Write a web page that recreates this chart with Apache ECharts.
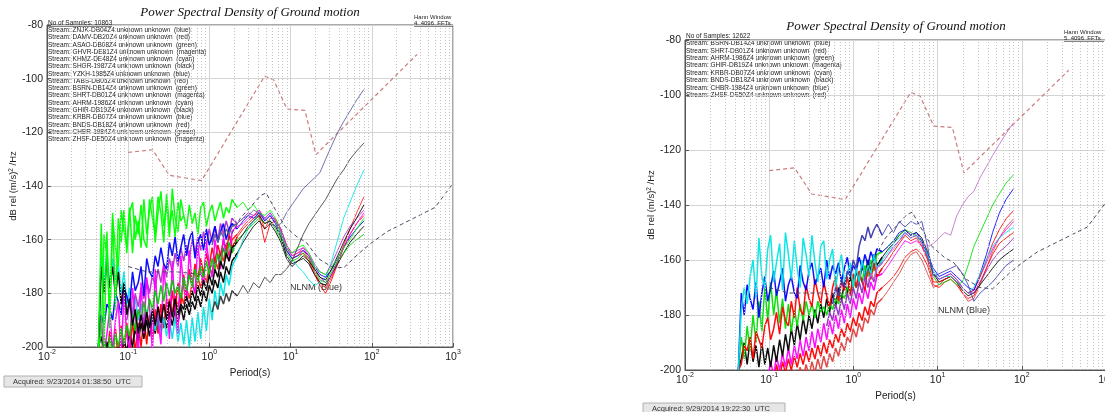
<!DOCTYPE html>
<html>
<head>
<meta charset="utf-8">
<script src="https://cdn.jsdelivr.net/npm/echarts@6/dist/echarts.min.js"></script>
<style>
  html, body { margin: 0; padding: 0; background: #fff; }
  #chart { width: 1105px; height: 412px; }
</style>
</head>
<body>
<div id="chart"></div>
<script>
// Shared period grid (s) for every PSD trace
const periods = [
  0.043,0.0466,0.0505,0.0547,0.0593,0.0643,0.0697,0.0755,0.0818,0.0887,
  0.0961,0.104,0.113,0.122,0.133,0.144,0.156,0.169,0.183,0.199,
  0.215,0.233,0.253,0.274,0.297,0.322,0.349,0.378,0.41,0.445,
  0.482,0.522,0.566,0.614,0.665,0.721,0.782,0.847,0.918,0.995,
  1.08,1.17,1.27,1.37,1.49,1.61,1.75,1.9,
  2.2,2.6,3.0,3.5,4.1,4.8,5.6,6.5,7.6,8.9,10.4,12.2,14.3,16.8,19.7,23,27,32,38,45,54,65,80
];

// Noise models (same on both panels)
const nhnmPeriods = [0.1,0.2,0.32,0.8,4.8,6.2,9,15,20.5,360];
const nhnmDb = [-127.5,-126.5,-136,-138,-99,-100.5,-111.3,-111.8,-128.3,-91];
const nlnmPeriods = [0.1,0.17,0.4,0.8,1.24,2.4,4.3,5,6,8.5,12,15.6,21.9,31.6,45,70,101,154,328,600,1000];
const nlnmDb = [-170,-172,-172,-173,-168,-152,-143.5,-142.6,-147,-155,-159,-161,-167,-170,-170.5,-165,-161,-157,-152,-148,-139];

const xTicks = [0.01, 0.1, 1, 10, 100, 1000];

// ---- left panel (23 Sep 2014) traces, dB ----
const leftRed2 = [null,null,null,null,null,null,null,null,null,null,null,null,
  -198,-194,-197,-191,-195,-189,-193,-187,
  -191,-185,-190,-184,-188,-182,-187,-181,-185,-180,
  -184,-178,-182,-176,-180,-174,-178,-172,-176,-170,
  -173,-167,-171,-165,-168,-162,-166,-160,
  -158,-155,-153,-151,-150,-156,-152,-152,-156,-162,-166,-165,-164,-167,-172,-176,-178,-174,-168,-162,-156,-150,-144];
const leftRed = [
  -200,-202,-196,-204,-194,-203,-193,-205,-192,-201,
  -191,-204,-190,-202,-191,-200,-189,-199,-188,-197,
  -186,-195,-184,-193,-182,-190,-179,-187,-176,-184,
  -173,-181,-171,-178,-169,-175,-167,-173,-165,-170,
  -163,-168,-162,-166,-160,-165,-158,-163,
  -159,-156,-154,-152,-151,-161,-154,-153,-157,-164,-167,-166,-165,-168,-173,-177,-180,-175,-169,-163,-158,-154,-151];
const leftBlack2 = [
  -200,-196,-203,-198,-205,-199,-204,-200,-203,-197,
  -202,-195,-200,-193,-198,-191,-197,-190,-196,-189,
  -195,-188,-194,-189,-193,-187,-192,-186,-191,-185,
  -190,-184,-188,-183,-186,-181,-185,-179,-183,-177,
  -180,-175,-178,-172,-176,-170,-173,-168,
  -165,-161,-158,-155,-153,-156,-154,-157,-161,-167,-170,-168,-167,-169,-173,-176,-177,-173,-169,-165,-161,-158,-155];
const leftCyan = [
  -200,-166,-176,-164,-178,-167,-175,-169,-180,-172,
  -184,-178,-188,-182,-190,-184,-192,-186,-193,-187,
  -194,-188,-195,-189,-196,-190,-197,-189,-198,-191,
  -199,-190,-200,-189,-198,-187,-197,-185,-194,-182,
  -190,-179,-186,-176,-181,-173,-177,-170,
  -166,-160,-156,-153,-150,-152,-150,-153,-157,-163,-167,-170,-172,-175,-177,-176,-174,-168,-160,-152,-146,-140,-134];
const leftMagenta2 = [null,null,null,null,null,null,null,null,null,null,
  -190,-184,-188,-180,-185,-178,-182,-175,-180,-173,
  -178,-171,-176,-169,-174,-167,-172,-165,-170,-163,
  -168,-162,-167,-160,-165,-159,-164,-157,-162,-156,
  -161,-155,-160,-154,-158,-153,-157,-152,
  -154,-152,-150,-151,-149,-153,-151,-153,-156,-162,-165,-164,-163,-165,-169,-172,-173,-169,-164,-159,-155,-152,-149];
const leftBlue = [
  -200,-188,-192,-184,-186,-190,-180,-183,-188,-178,
  -181,-185,-172,-179,-176,-170,-181,-167,-172,-174,
  -166,-170,-163,-169,-171,-161,-166,-159,-168,-163,
  -158,-166,-160,-157,-167,-161,-158,-164,-156,-162,
  -159,-155,-161,-157,-154,-160,-156,-154,
  -156,-153,-151,-152,-150,-153,-151,-154,-158,-164,-167,-166,-164,-166,-170,-173,-174,-171,-167,-163,-159,-156,-153];
const leftMagenta = [
  -200,-189,-203,-195,-186,-202,-190,-183,-204,-180,
  -196,-201,-178,-188,-203,-176,-195,-174,-185,-202,
  -171,-190,-199,-170,-182,-197,-168,-186,-195,-166,
  -178,-183,-164,-176,-180,-162,-172,-177,-161,-169,
  -174,-160,-166,-171,-159,-165,-168,-157,
  -155,-154,-152,-151,-149,-152,-150,-153,-157,-163,-166,-165,-163,-166,-171,-174,-176,-173,-168,-163,-158,-154,-150];
const leftGreen2 = [
  -200,-203,-197,-204,-196,-202,-195,-200,-193,-199,
  -192,-196,-188,-194,-186,-190,-183,-189,-182,-186,
  -179,-184,-177,-183,-176,-181,-175,-180,-177,-182,
  -174,-179,-173,-178,-171,-176,-170,-174,-168,-173,
  -167,-171,-165,-169,-163,-167,-161,-165,
  -160,-158,-156,-154,-152,-154,-153,-156,-160,-165,-168,-167,-165,-167,-171,-175,-176,-172,-168,-165,-162,-160,-158];
const leftBlack1 = [
  -200,-170,-180,-168,-178,-170,-181,-172,-184,-176,
  -188,-182,-192,-186,-195,-188,-194,-187,-193,-186,
  -192,-185,-191,-184,-190,-183,-189,-182,-188,-184,
  -186,-181,-185,-179,-183,-177,-181,-175,-179,-173,
  -177,-171,-174,-168,-171,-165,-168,-163,
  -161,-158,-155,-153,-151,-154,-153,-155,-159,-166,-169,-168,-166,-168,-171,-174,-175,-171,-166,-161,-156,-152,-147];
const leftGreen3 = [
  -200,-195,-158,-166,-188,-152,-163,-170,-149,-157,
  -162,-148,-165,-151,-158,-147,-160,-163,-145,-152,
  -158,-144,-150,-161,-143,-155,-149,-159,-146,-153,-151];
const leftGreen1 = [
  -200,-154,-199,-157,-193,-150,-186,-152,-161,-149,
  -165,-150,-146,-160,-153,-163,-145,-158,-149,-144,
  -161,-150,-142,-155,-147,-159,-141,-152,-157,-145,
  -151,-156,-147,-154,-150,-158,-148,-146,-155,-150,
  -147,-153,-149,-146,-152,-148,-150,-145,
  -148,-146,-149,-147,-150,-151,-149,-152,-158,-163,-165,-163,-162,-165,-170,-172,-173,-170,-167,-163,-160,-156,-152];
const leftLineA = [null,null,null,null,null,null,null,null,null,null,
  null,null,null,null,null,null,null,null,null,null,
  null,null,null,null,null,null,null,null,null,null,
  null,null,null,null,null,null,null,null,null,null,
  -162,-158,-161,-157,-159,-156,-158,-155,
  -154,-152,-151,-149,-150,-152,-154,-155,-154,-150,-147,-144,-141,-139,-137,-135,-130,-125,-120,-116,-112,-108,-104];
const leftLineB = [null,null,null,null,null,null,null,null,null,null,
  null,null,null,null,null,null,null,null,null,null,
  null,null,null,null,null,null,null,null,null,null,
  null,null,null,null,null,null,null,null,null,null,
  -187,-183,-186,-181,-184,-180,-183,-179,
  -181,-177,-180,-176,-178,-174,-176,-173,-173,-171,-168,-163,-158,-154,-151,-148,-145,-141,-137,-134,-130,-127,-124];

// ---- right panel (29 Sep 2014) traces, dB ----
const rightRed3 = [null,null,null,null,null,null,null,null,null,null,
  null,null,null,null,null,null,null,null,-205,-200,
  -204,-199,-203,-198,-202,-197,-201,-196,-200,-195,
  -199,-194,-197,-192,-195,-190,-193,-188,-190,-185,
  -188,-183,-186,-181,-183,-178,-180,-176,
  -174,-171,-168,-165,-161,-158,-157,-160,-165,-170,-169,-167,-166,-168,-172,-175,-174,-169,-163,-157,-152,-148,-145];
const rightRed2 = [null,null,null,null,null,null,null,null,null,null,null,null,
  -204,-198,-203,-197,-201,-196,-200,-195,
  -199,-194,-198,-193,-197,-192,-196,-191,-195,-190,
  -194,-189,-192,-187,-190,-185,-188,-183,-186,-181,
  -184,-179,-182,-177,-180,-175,-177,-172,
  -170,-168,-166,-163,-159,-157,-156,-158,-162,-169,-170,-168,-167,-169,-172,-174,-173,-168,-163,-158,-154,-152,-150];
const rightMagenta = [null,null,null,null,null,null,null,null,null,null,
  -203,-197,-202,-195,-200,-194,-199,-192,-198,-191,
  -196,-189,-195,-188,-193,-186,-192,-185,-190,-183,
  -189,-182,-187,-180,-185,-178,-183,-176,-181,-174,
  -178,-172,-176,-170,-174,-168,-171,-166,
  -165,-162,-159,-156,-153,-154,-153,-155,-159,-165,-167,-166,-165,-167,-170,-172,-171,-166,-161,-156,-152,-149,-146];
const rightBlack = [
  -200,-196,-190,-198,-189,-197,-191,-199,-190,-198,
  -192,-199,-191,-197,-189,-195,-187,-193,-185,-191,
  -183,-189,-181,-187,-180,-185,-178,-183,-176,-181,
  -174,-179,-172,-177,-170,-175,-168,-172,-166,-170,
  -164,-168,-162,-166,-160,-164,-158,-162,
  -159,-156,-154,-151,-149,-151,-150,-152,-157,-165,-168,-167,-166,-168,-171,-173,-172,-169,-166,-163,-160,-158,-156];
const rightGreen = [
  -200,-188,-196,-184,-193,-180,-190,-175,-186,-170,
  -182,-168,-180,-171,-183,-174,-185,-176,-186,-178,
  -184,-176,-182,-175,-180,-176,-181,-175,-179,-177,
  -180,-176,-178,-174,-176,-172,-174,-170,-172,-167,
  -170,-165,-168,-162,-166,-160,-164,-158,
  -157,-155,-153,-151,-149,-150,-151,-153,-159,-166,-169,-168,-167,-169,-168,-162,-155,-150,-145,-140,-136,-132,-129];
const rightRed1 = [
  -200,-198,-191,-193,-188,-196,-186,-189,-192,-184,
  -181,-189,-185,-179,-187,-177,-182,-184,-175,-181,
  -170,-178,-180,-169,-174,-177,-167,-172,-176,-168,
  -173,-177,-170,-166,-175,-168,-171,-166,-173,-165,
  -170,-164,-168,-171,-162,-167,-161,-166,
  -163,-160,-157,-154,-151,-153,-152,-155,-160,-168,-168,-167,-166,-168,-170,-172,-171,-166,-160,-154,-149,-145,-142];
const rightBlue = [
  -200,-172,-180,-169,-174,-178,-168,-181,-172,-166,
  -175,-170,-164,-173,-168,-163,-175,-169,-166,-172,
  -174,-162,-168,-171,-164,-161,-169,-166,-163,-170,
  -160,-167,-162,-165,-161,-168,-163,-159,-166,-162,
  -164,-159,-163,-158,-162,-157,-160,-156,
  -157,-155,-153,-150,-149,-151,-150,-153,-158,-163,-166,-165,-164,-166,-168,-170,-171,-165,-158,-150,-143,-138,-134];
const rightCyan = [
  -200,-178,-170,-176,-166,-160,-174,-152,-166,-170,
  -156,-151,-168,-161,-154,-171,-150,-158,-167,-153,
  -163,-170,-152,-158,-166,-151,-161,-168,-155,-153,
  -167,-160,-156,-170,-163,-158,-168,-165,-161,-170,
  -163,-168,-160,-166,-162,-165,-158,-163,
  -160,-157,-154,-152,-150,-152,-151,-154,-158,-164,-167,-166,-166,-168,-170,-172,-170,-165,-160,-155,-152,-150,-148];
const rightPurple = [null,null,null,null,null,null,null,null,null,null,
  null,null,null,null,null,null,null,null,null,null,
  null,null,null,null,null,null,null,null,null,null,
  -184,-179,-182,-176,-180,-174,-178,-172,-176,-170,
  -174,-168,-172,-166,-170,-165,-168,-163,
  -161,-158,-155,-153,-150,-152,-151,-154,-159,-165,-167,-166,-165,-167,-170,-172,-172,-168,-164,-160,-157,-155,-152];
const rightBlueHigh = [null,null,null,null,null,null,null,null,null,null,
  null,null,null,null,null,null,null,null,null,null,
  null,null,null,null,null,null,null,null,null,null,
  null,null,-176,-170,-173,-167,-170,-164,-166,-160,
  -163,-155,-151,-153,-148,-152,-149,-147,
  -151,-147,-150,-146,-148,-146,-147,-146,-155,-166,-165,-164,-163,-162,-165,-169,-175,-172,-170,-168,-165,-162,-160];
const rightViolet = [null,null,null,null,null,null,null,null,null,null,
  null,null,null,null,null,null,null,null,null,null,
  null,null,null,null,null,null,null,null,null,null,
  null,null,null,null,null,null,null,null,null,null,
  null,null,null,null,-168,-165,-167,-163,
  -161,-158,-156,-153,-151,-150,-152,-154,-155,-154,-152,-150,-151,-144,-140,-137,-135,-130,-126,-122,-118,-114,-110];

// Station legends
const leftSamples = 'No of Samples: 10863';
const leftStreams = [
  'ZNJK-DB04Z4 unknown unknown  (blue)', 'DAMV-DB20Z4 unknown unknown  (red)',
  'ASAO-DB08Z4 unknown unknown  (green)', 'GHVR-DE81Z4 unknown unknown  (magenta)',
  'KHMZ-DE48Z4 unknown unknown  (cyan)', 'SHGR-1987Z4 unknown unknown  (black)',
  'YZKH-1985Z4 unknown unknown  (blue)', 'TABS-DB05Z4 unknown unknown  (red)',
  'BSRN-DB14Z4 unknown unknown  (green)', 'SHRT-DB01Z4 unknown unknown  (magenta)',
  'AHRM-1986Z4 unknown unknown  (cyan)', 'GHIR-DB19Z4 unknown unknown  (black)',
  'KRBR-DB07Z4 unknown unknown  (blue)', 'BNDS-DB18Z4 unknown unknown  (red)',
  'CHBR-1984Z4 unknown unknown  (green)', 'ZHSF-DE50Z4 unknown unknown  (magenta)'
];
const rightSamples = 'No of Samples: 12622';
const rightStreams = [
  'BSRN-DB14Z4 unknown unknown  (blue)', 'SHRT-DB01Z4 unknown unknown  (red)',
  'AHRM-1986Z4 unknown unknown  (green)', 'GHIR-DB19Z4 unknown unknown  (magenta)',
  'KRBR-DB07Z4 unknown unknown  (cyan)', 'BNDS-DB18Z4 unknown unknown  (black)',
  'CHBR-1984Z4 unknown unknown  (blue)', 'ZHSF-DE50Z4 unknown unknown  (red)'
];
const titleText = 'Power Spectral Density of Ground motion';
const leftAcquired = 'Acquired: 9/23/2014 01:38:50  UTC';
const rightAcquired = 'Acquired: 9/29/2014 19:22:30  UTC';

const FONT = '"Liberation Sans", Arial, sans-serif';
const DENSE_END = 48; // index of first period above 2 s

function toPairs(vals, xs) {
  const out = [];
  vals.forEach((v, i) => { if (v != null) out.push([xs[i], v]); });
  return out;
}

function lineSeries(pairs, color, panel, width, opacity) {
  return {
    type: 'line', xAxisIndex: panel, yAxisIndex: panel,
    data: pairs, symbol: 'none', silent: true,
    lineStyle: { color, width, opacity }
  };
}

// short-period part is drawn heavier (dense cloud), long-period tail thin
function trace(vals, color, panel) {
  const head = vals.map((v, i) => (i <= DENSE_END ? v : null));
  const tail = vals.map((v, i) => (i >= DENSE_END - 1 ? v : null));
  return [
    lineSeries(toPairs(head, periods), color, panel, 1.5, 0.95),
    lineSeries(toPairs(tail, periods), color, panel, 1, 0.85)
  ];
}

// minor (2..9) dotted grid lines of the log axis
const minorGrid = [];
for (const d of [0.01, 0.1, 1, 10, 100]) {
  for (let m = 2; m <= 9; m++) minorGrid.push({ xAxis: +(d * m).toPrecision(3) });
}

function noiseModels(panel) {
  return [
    {
      type: 'line', xAxisIndex: panel, yAxisIndex: panel, symbol: 'none', silent: true,
      data: toPairs(nlnmDb, nlnmPeriods),
      lineStyle: { color: '#4a4a66', width: 1, type: [4, 3] }
    },
    {
      type: 'line', xAxisIndex: panel, yAxisIndex: panel, symbol: 'none', silent: true, z: 1,
      data: toPairs(nhnmDb, nhnmPeriods),
      lineStyle: { color: '#cc7c7c', width: 1.2, type: [4, 3] },
      markLine: {
        silent: true, symbol: 'none', animation: false, label: { show: false },
        lineStyle: { color: '#c4c4c4', width: 1, type: [1, 2] },
        data: minorGrid
      }
    }
  ];
}

const supRich = {
  b: { fontSize: 10.5, fontFamily: FONT, color: '#222', padding: [3, 0, 0, 0], verticalAlign: 'bottom' },
  s: { fontSize: 7, fontFamily: FONT, color: '#222', verticalAlign: 'top' }
};

function xAxisFor(i, gap) {
  return {
    type: 'log', logBase: 10, gridIndex: i, min: 0.01, max: 1000,
    name: 'Period(s)', nameLocation: 'middle', nameGap: gap,
    nameTextStyle: { fontSize: 10, fontFamily: FONT, color: '#222' },
    axisLine: { lineStyle: { color: '#555' } },
    axisTick: { inside: true, length: 4, lineStyle: { color: '#555' } },
    axisLabel: {
      margin: 2,
      customValues: xTicks,
      formatter: v => '{b|10}{s|' + Math.round(Math.log10(v)) + '}',
      rich: supRich
    },
    splitLine: { show: true, lineStyle: { color: '#d4d4d4' } }
  };
}

function yAxisFor(i, gap) {
  return {
    type: 'value', gridIndex: i, min: -200, max: -80, interval: 20,
    name: 'dB rel (m/s){s|2} /Hz', nameLocation: 'middle', nameGap: gap,
    nameTextStyle: { fontSize: 9.5, fontFamily: FONT, color: '#222', rich: { s: { fontSize: 6.5, fontFamily: FONT, color: '#222', verticalAlign: 'top' } } },
    axisLine: { show: true, lineStyle: { color: '#555' } },
    axisTick: { inside: true, length: 4, lineStyle: { color: '#555' } },
    axisLabel: { fontSize: 10.5, fontFamily: FONT, color: '#222', margin: 4 },
    splitLine: { show: true, lineStyle: { color: '#d4d4d4' } }
  };
}

function legendBlock(x, y0, step, header, streams) {
  const els = [{
    type: 'text', x, y: y0,
    style: { text: header, font: '6.5px ' + FONT, fill: '#222', verticalAlign: 'middle' }
  }, {
    type: 'line', shape: { x1: x, y1: y0 + 3.5, x2: x + 64, y2: y0 + 3.5 },
    style: { stroke: '#333', lineWidth: 0.6 }
  }];
  streams.forEach((s, k) => {
    els.push({
      type: 'text', x, y: y0 + step * (k + 1),
      style: { text: 'Stream: ' + s, font: '6.5px ' + FONT, fill: '#222', verticalAlign: 'middle' }
    });
  });
  return els;
}

function acquiredBox(x, y, w, h, text) {
  return [{
    type: 'rect', shape: { x, y, width: w, height: h },
    style: { fill: '#e6e6e6', stroke: '#b0b0b0', lineWidth: 1 }
  }, {
    type: 'text', x: x + 9, y: y + h / 2,
    style: { text, font: '7.5px ' + FONT, fill: '#333', verticalAlign: 'middle' }
  }];
}

function hannText(x, y, fft) {
  return [{
    type: 'text', x, y,
    style: { text: 'Hann Window', font: '6px ' + FONT, fill: '#222', verticalAlign: 'middle' }
  }, {
    type: 'text', x, y: y + 6,
    style: { text: fft, font: '6px ' + FONT, fill: '#222', verticalAlign: 'middle' }
  }, {
    type: 'line', shape: { x1: x, y1: y + 9.5, x2: x + 40, y2: y + 9.5 },
    style: { stroke: '#333', lineWidth: 0.6 }
  }];
}

const graphics = [].concat(
  [{ type: 'text', x: 250, y: 13, style: { text: titleText, font: 'italic 13px "Liberation Serif", serif', fill: '#111', align: 'center', verticalAlign: 'middle' } },
   { type: 'text', x: 896, y: 27, style: { text: titleText, font: 'italic 13px "Liberation Serif", serif', fill: '#111', align: 'center', verticalAlign: 'middle' } },
   { type: 'text', x: 290, y: 288, style: { text: 'NLNM (Blue)', font: '9px ' + FONT, fill: '#333', verticalAlign: 'middle' } },
   { type: 'text', x: 938, y: 311, style: { text: 'NLNM (Blue)', font: '9px ' + FONT, fill: '#333', verticalAlign: 'middle' } }],
  hannText(414, 17, '4, 4096  FFTs'),
  hannText(1064, 32, '5, 4096  FFTs'),
  legendBlock(48, 23, 7.27, leftSamples, leftStreams),
  legendBlock(686, 36, 7.4, rightSamples, rightStreams),
  acquiredBox(4, 376, 138, 11, leftAcquired),
  acquiredBox(643, 403, 142, 11, rightAcquired)
);

const series = [
  ...trace(leftRed2, '#ff2020', 0),
  ...trace(leftRed, '#ff0000', 0),
  ...trace(leftBlack2, '#000000', 0),
  ...trace(leftCyan, '#00e5e5', 0),
  ...trace(leftMagenta2, '#b030c8', 0),
  ...trace(leftBlue, '#0000ff', 0),
  ...trace(leftMagenta, '#ff00ff', 0),
  ...trace(leftGreen2, '#00cc00', 0),
  ...trace(leftBlack1, '#000000', 0),
  ...trace(leftGreen3, '#00ff00', 0),
  ...trace(leftGreen1, '#00ff00', 0),
  ...trace(leftLineA, '#5a5a9a', 0),
  ...trace(leftLineB, '#3a3a3a', 0),
  ...noiseModels(0),
  ...trace(rightRed3, '#e04040', 1),
  ...trace(rightRed2, '#ff0000', 1),
  ...trace(rightMagenta, '#ff00ff', 1),
  ...trace(rightBlack, '#000000', 1),
  ...trace(rightGreen, '#00dd00', 1),
  ...trace(rightRed1, '#ff0000', 1),
  ...trace(rightBlue, '#0000ff', 1),
  ...trace(rightCyan, '#00e5e5', 1),
  ...trace(rightPurple, '#9030c0', 1),
  ...trace(rightBlueHigh, '#3a3ab0', 1),
  ...trace(rightViolet, '#c070c8', 1),
  ...noiseModels(1)
];

const chart = echarts.init(document.getElementById('chart'), null, { renderer: 'canvas' });
chart.setOption({
  animation: false,
  backgroundColor: '#fff',
  grid: [
    { left: 47, top: 25, width: 406, height: 322, show: true, borderColor: '#555', borderWidth: 1, backgroundColor: 'transparent', outerBoundsMode: 'none' },
    { left: 685, top: 40, width: 421, height: 330, show: true, borderColor: '#555', borderWidth: 1, backgroundColor: 'transparent', outerBoundsMode: 'none' }
  ],
  xAxis: [xAxisFor(0, 13), xAxisFor(1, 16)],
  yAxis: [yAxisFor(0, 24), yAxisFor(1, 19)],
  graphic: graphics,
  series
});
</script>
</body>
</html>
